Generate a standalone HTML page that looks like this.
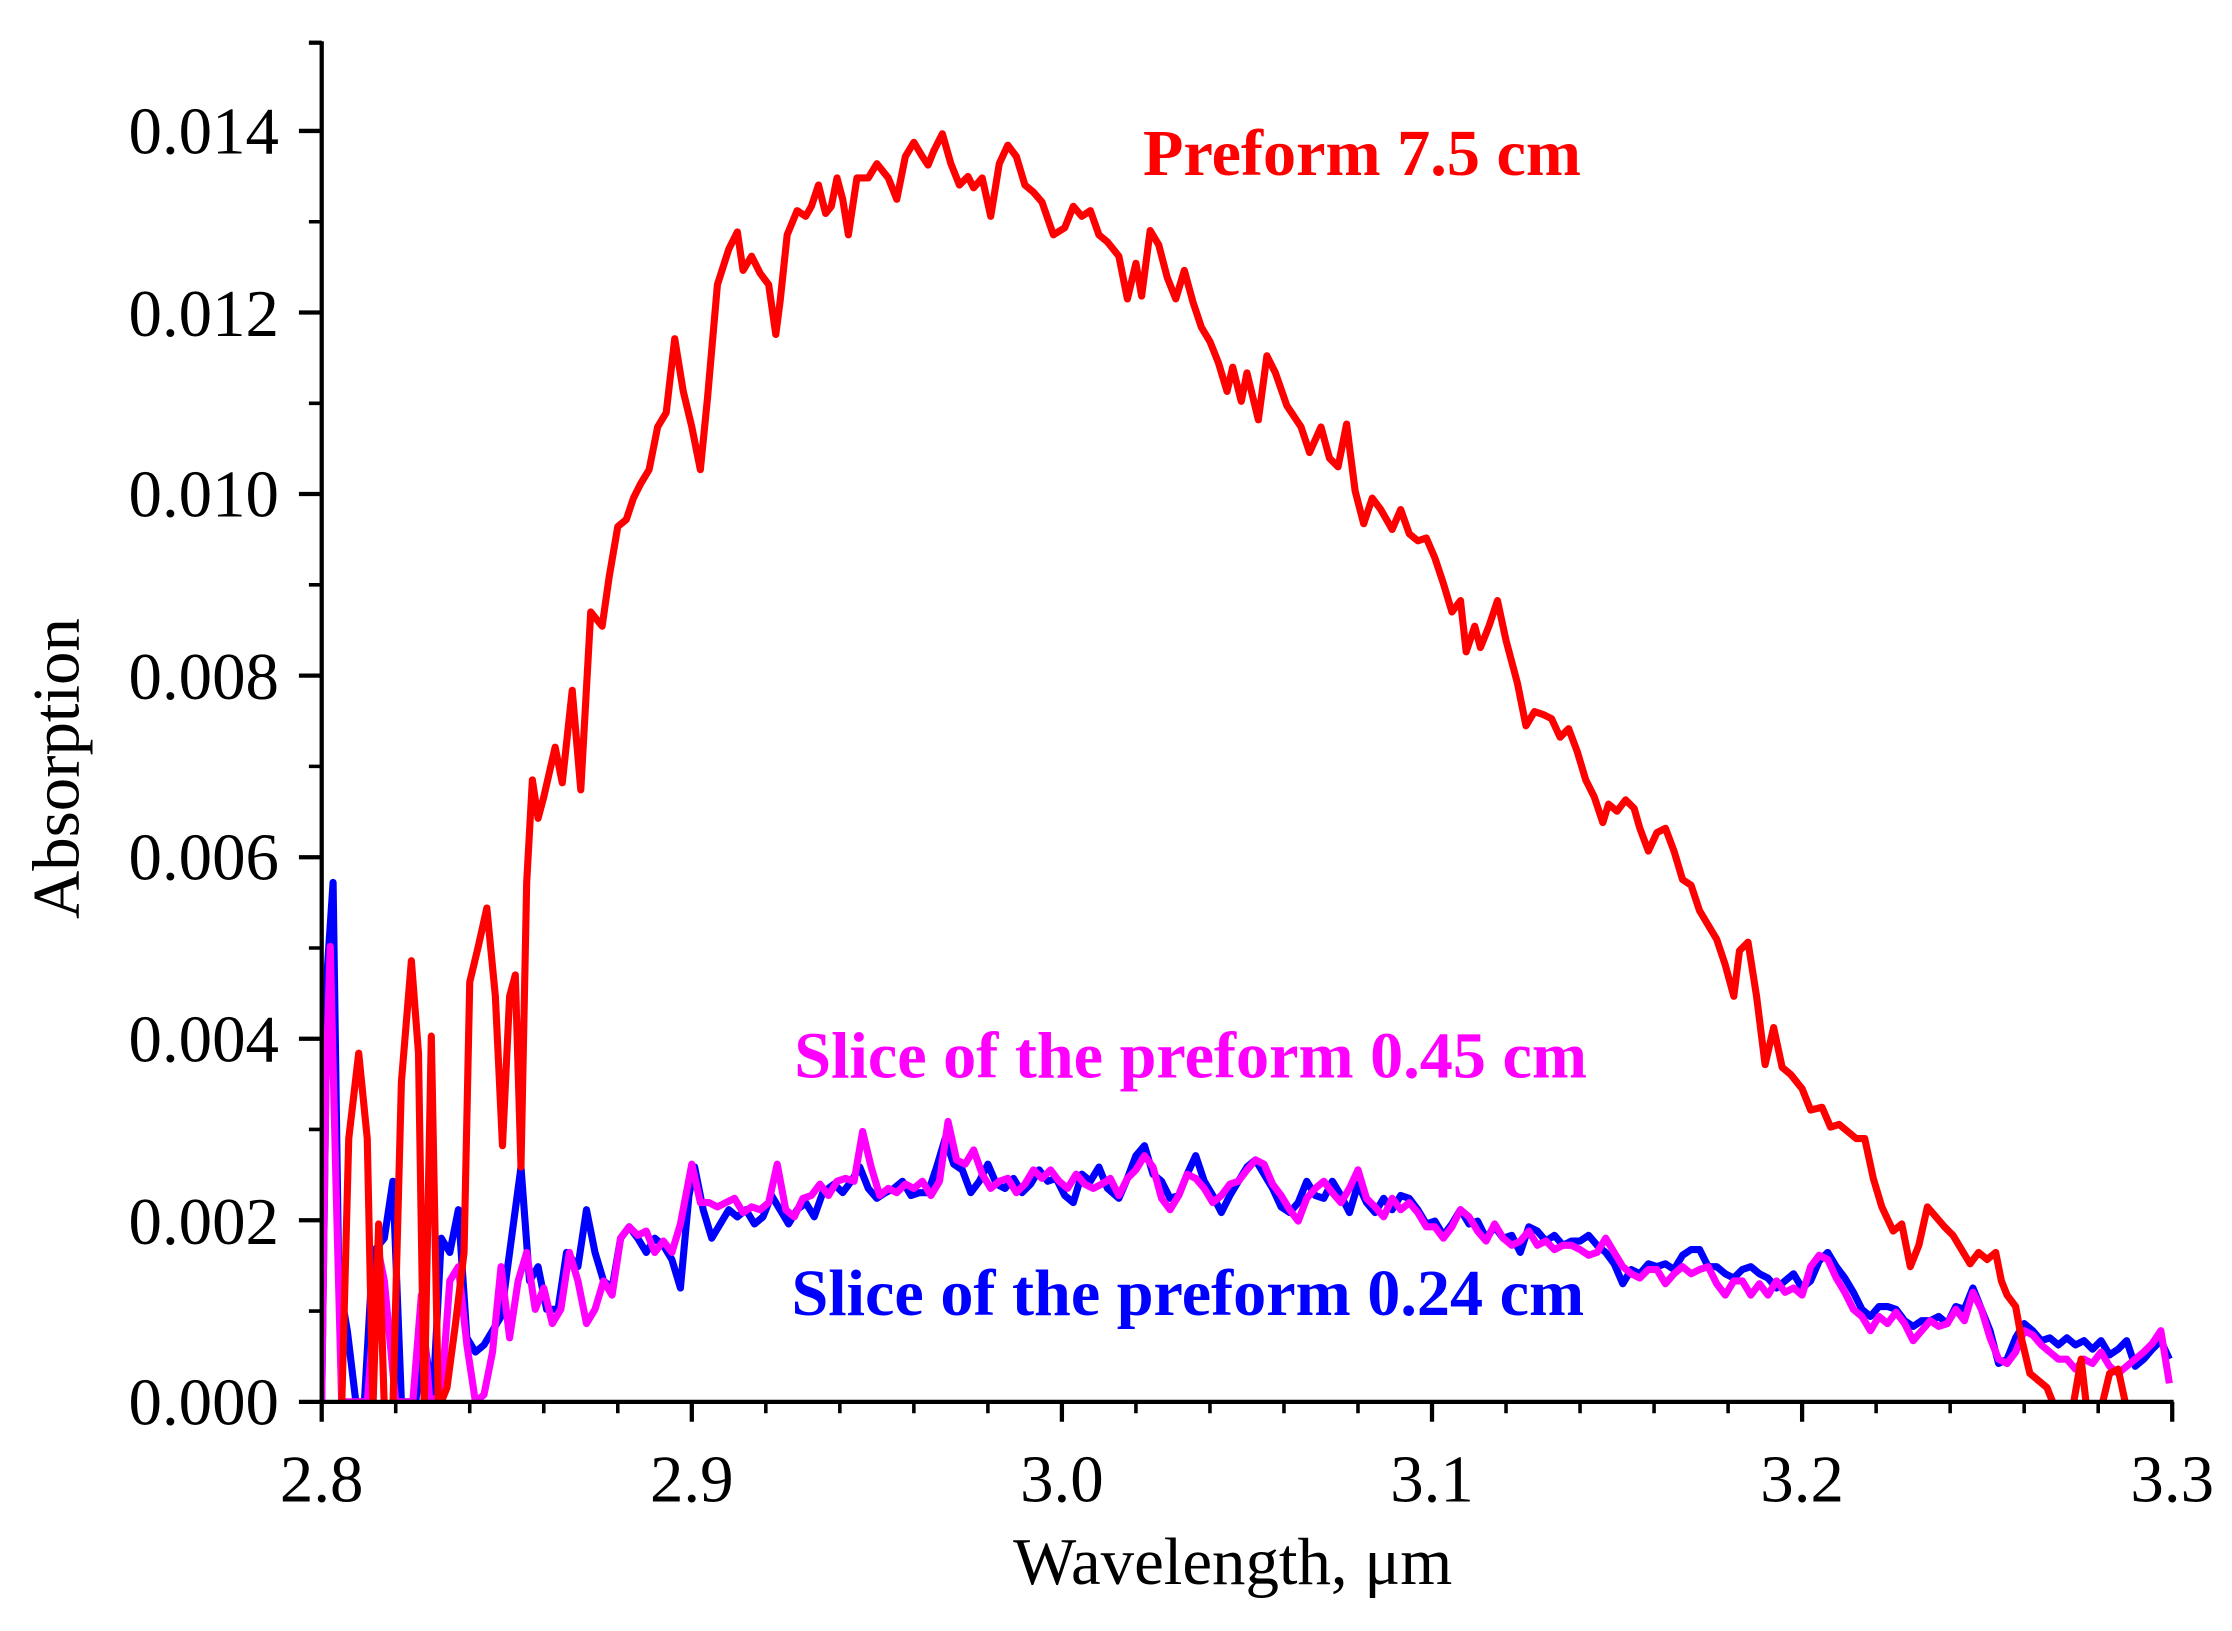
<!DOCTYPE html>
<html><head><meta charset="utf-8"><style>
html,body{margin:0;padding:0;background:#fff;}
svg{display:block;}
text{font-family:"Liberation Serif",serif;}
</style></head><body>
<svg width="2232" height="1631" viewBox="0 0 1568 1146" preserveAspectRatio="none" xmlns="http://www.w3.org/2000/svg">
<defs><clipPath id="c"><rect x="226" y="20" width="1302" height="965"/></clipPath></defs>
<g clip-path="url(#c)" fill="none" stroke-width="5" stroke-linejoin="round">
<polyline stroke="#0000ff" points="226,985 230,680 234,620 238,900 244,935 250,985 256,985 262,880 270,870 276,830 282,985 292,985 298,940 304,985 310,870 316,880 322,850 328,940 334,950 340,945 346,935 352,925 358,880 366,820 372,900 378,890 384,920 392,920 398,880 406,890 412,850 418,880 424,900 430,905 436,870 442,862 448,870 454,880 460,870 466,875 472,885 478,905 484,840 488,820 494,850 500,870 506,860 512,850 518,855 524,850 530,860 536,855 542,840 548,850 554,860 560,850 566,845 572,855 578,838 586,832 592,838 598,830 604,820 610,835 616,842 622,838 628,835 634,830 640,840 646,838 652,838 658,820 664,800 670,818 676,822 682,838 688,830 694,818 700,832 706,835 712,828 718,838 724,832 730,822 736,830 742,828 748,840 754,845 760,825 766,830 772,820 778,835 786,842 792,828 798,812 804,805 810,825 816,830 822,842 828,840 834,825 840,812 846,830 852,840 858,852 864,840 870,830 876,820 882,815 888,825 894,835 900,848 906,852 912,845 918,830 924,840 930,842 936,830 942,840 948,852 954,832 960,845 966,852 972,842 978,850 984,840 990,842 996,850 1002,860 1008,858 1014,868 1020,860 1026,850 1032,860 1038,858 1044,870 1050,862 1056,870 1062,868 1068,880 1074,862 1080,865 1086,872 1092,868 1098,875 1104,872 1110,872 1116,868 1122,875 1128,880 1134,888 1140,902 1146,892 1152,895 1158,888 1164,890 1170,888 1176,892 1182,882 1188,878 1194,878 1200,890 1206,890 1212,895 1218,898 1224,892 1230,890 1236,895 1242,898 1248,905 1254,900 1260,895 1266,905 1272,900 1278,886 1284,880 1290,890 1296,898 1302,908 1308,920 1314,925 1320,918 1326,918 1332,920 1338,928 1344,932 1350,928 1356,928 1362,925 1368,930 1374,918 1380,920 1386,905 1392,920 1398,935 1404,958 1410,955 1416,940 1422,930 1428,935 1434,942 1440,940 1446,945 1452,940 1458,945 1464,942 1470,948 1476,942 1482,952 1488,948 1494,942 1500,960 1506,955 1512,948 1518,942 1524,955"/>
<polyline stroke="#ff00ff" points="226,985 229,760 232,665 236,830 240,985 250,985 258,985 266,880 270,900 278,985 284,985 290,985 296,910 302,985 310,980 316,900 322,890 328,945 334,985 340,980 346,950 352,890 358,940 364,900 370,880 376,920 382,905 388,930 394,920 400,880 406,900 412,930 418,920 424,900 430,910 436,870 442,862 448,868 454,865 460,880 466,872 472,880 478,860 486,818 492,845 498,845 504,848 510,845 516,842 522,852 528,848 534,850 540,845 546,818 552,850 558,855 564,842 570,840 576,832 582,840 588,830 594,828 600,830 606,795 612,820 618,840 624,835 630,838 636,832 642,835 648,830 654,840 660,830 666,788 672,815 678,818 684,808 690,825 696,835 702,830 708,828 714,838 720,832 726,822 732,828 738,822 744,830 750,835 756,825 762,832 768,835 774,832 780,828 786,840 792,828 798,822 804,812 810,820 816,842 822,850 828,840 834,825 840,828 846,835 852,845 858,840 864,832 870,830 876,822 882,815 888,818 894,832 900,840 906,850 912,858 918,842 924,835 930,830 936,838 942,845 948,835 954,822 960,842 966,848 972,855 978,842 984,850 990,845 996,852 1002,862 1008,862 1014,870 1020,862 1026,850 1032,855 1038,865 1044,872 1050,860 1056,870 1062,875 1068,872 1074,865 1080,875 1086,872 1092,878 1098,875 1104,875 1110,878 1116,882 1122,880 1128,870 1134,880 1140,890 1146,895 1152,898 1158,892 1164,892 1170,902 1176,895 1182,890 1188,895 1194,892 1200,890 1206,902 1212,910 1218,900 1224,900 1230,910 1236,902 1242,910 1248,900 1254,908 1260,905 1266,910 1272,890 1278,882 1284,885 1290,898 1296,908 1302,920 1308,925 1314,935 1320,925 1326,930 1332,922 1338,930 1344,942 1350,935 1356,928 1362,932 1368,930 1374,920 1380,928 1386,908 1392,920 1398,940 1404,955 1410,958 1416,950 1422,935 1428,938 1434,945 1440,950 1446,955 1452,955 1458,962 1464,955 1470,958 1476,950 1482,960 1488,965 1494,960 1500,955 1506,950 1512,944 1518,935 1524,972"/>
<polyline stroke="#ff0000" points="226,990 230,990 240,990 245,800 252,740 258,800 262,990 266,860 270,990 276,990 282,760 289,675 294,740 298,990 303,728 308,990 314,975 320,930 326,880 330,690 336,665 342,638 348,700 353,805 358,700 362,685 366,820 370,620 374,548 378,575 382,560 390,525 395,550 402,485 408,555 415,430 423,440 428,405 434,370 440,365 445,350 450,340 456,330 462,300 468,290 474,238 480,275 486,300 492,330 497,280 504,200 512,175 518,163 522,190 528,180 534,192 540,200 545,235 548,212 553,165 560,148 566,152 570,145 575,130 580,150 584,145 588,125 592,140 596,165 602,125 610,125 616,115 624,125 630,140 636,110 642,100 648,110 652,116 656,106 662,94 668,115 674,130 680,124 684,132 690,125 696,152 702,115 708,102 714,110 720,130 726,135 732,142 740,165 748,160 754,145 760,152 766,148 772,165 778,170 786,180 792,210 798,185 802,208 808,162 814,172 820,195 826,210 832,190 838,212 844,230 850,240 856,255 862,275 866,258 872,282 876,262 884,295 890,250 896,262 904,285 914,300 920,318 928,300 934,322 940,328 946,298 952,345 958,368 964,350 970,358 978,372 984,358 990,375 996,380 1002,378 1008,392 1014,410 1020,430 1026,422 1030,458 1036,440 1040,455 1046,440 1052,422 1058,450 1066,480 1072,510 1078,500 1084,502 1090,505 1096,518 1102,512 1108,528 1114,548 1120,560 1126,578 1130,565 1136,570 1142,562 1148,568 1152,582 1158,598 1164,585 1170,582 1176,598 1182,618 1188,622 1194,640 1200,650 1206,660 1212,678 1218,700 1222,668 1228,662 1234,700 1240,748 1246,722 1252,750 1258,755 1266,765 1272,780 1280,778 1286,792 1292,790 1298,795 1304,800 1310,800 1316,828 1322,848 1330,865 1336,860 1342,890 1348,875 1354,848 1360,855 1366,862 1372,868 1378,878 1384,888 1390,880 1396,885 1402,880 1406,900 1410,910 1416,918 1420,940 1426,965 1432,970 1438,975 1444,990 1450,990 1456,990 1462,955 1466,990 1476,990 1482,965 1488,962 1494,990"/>
</g>
<g stroke="#000" stroke-width="3" fill="none">
<line x1="226" y1="29" x2="226" y2="986.5"/>
<line x1="224.5" y1="985" x2="1527" y2="985"/>
<line x1="217" y1="30" x2="226" y2="30"/>
<path d="M226,999V985 M486,999V985 M746,999V985 M1006,999V985 M1266,999V985 M1526,999V985"/>
<path stroke-width="2.5" d="M278,993V985 M330,993V985 M382,993V985 M434,993V985 M538,993V985 M590,993V985 M642,993V985 M694,993V985 M798,993V985 M850,993V985 M902,993V985 M954,993V985 M1058,993V985 M1110,993V985 M1162,993V985 M1214,993V985 M1318,993V985 M1370,993V985 M1422,993V985 M1474,993V985"/>
<path d="M210,985H226 M210,857.4H226 M210,729.9H226 M210,602.3H226 M210,474.7H226 M210,347.1H226 M210,219.6H226 M210,92H226"/>
<path stroke-width="2.5" d="M217,921.2H226 M217,793.6H226 M217,666.1H226 M217,538.5H226 M217,410.9H226 M217,283.4H226 M217,155.8H226"/>
</g>
<g font-size="47" fill="#000" text-anchor="end">
<text x="196" y="1001">0.000</text>
<text x="196" y="874">0.002</text>
<text x="196" y="746">0.004</text>
<text x="196" y="618">0.006</text>
<text x="196" y="491">0.008</text>
<text x="196" y="363">0.010</text>
<text x="196" y="236">0.012</text>
<text x="196" y="108">0.014</text>
</g>
<g font-size="47" fill="#000" text-anchor="middle">
<text x="226" y="1055">2.8</text>
<text x="486" y="1055">2.9</text>
<text x="746" y="1055">3.0</text>
<text x="1006" y="1055">3.1</text>
<text x="1266" y="1055">3.2</text>
<text x="1526" y="1055">3.3</text>
<text x="866" y="1113">Wavelength, μm</text>
<text transform="translate(55,540) rotate(-90)">Absorption</text>
</g>
<g font-size="46.5" font-weight="bold">
<text x="803" y="123" fill="#ff0000">Preform 7.5 cm</text>
<text x="558" y="757" fill="#ff00ff">Slice of the preform 0.45 cm</text>
<text x="556" y="924" fill="#0000ff">Slice of the preform 0.24 cm</text>
</g>
</svg>
</body></html>
